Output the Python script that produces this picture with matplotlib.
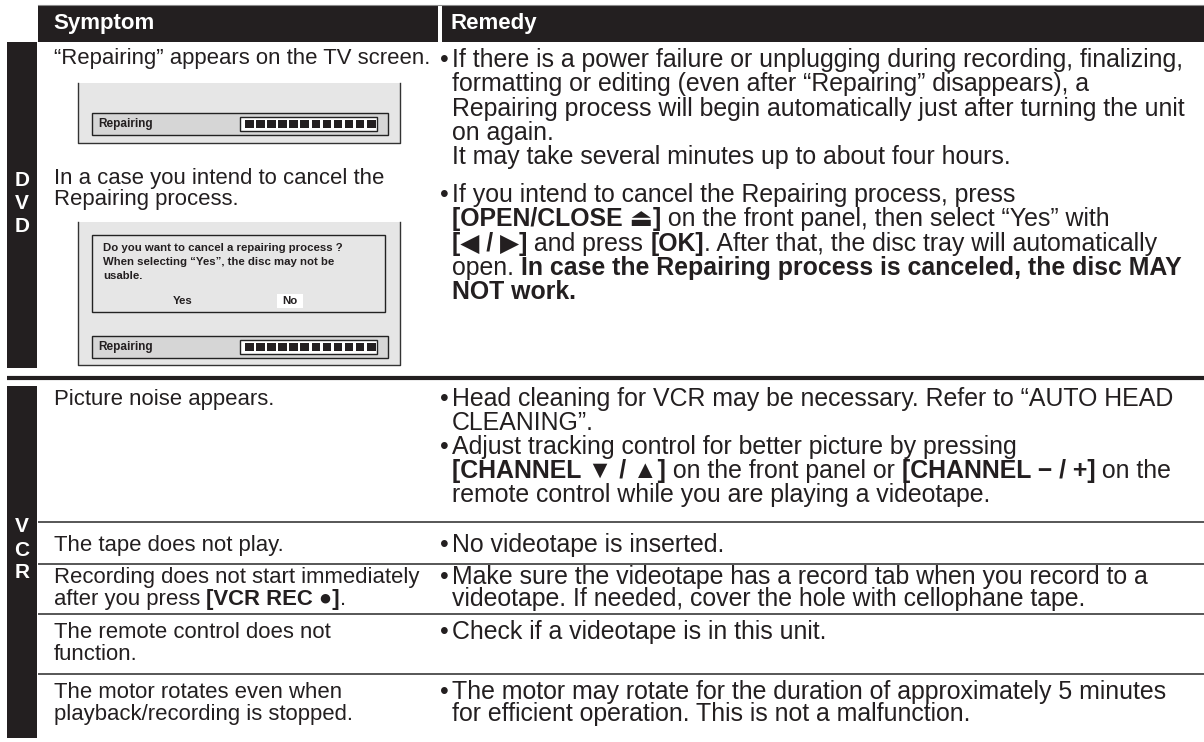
import matplotlib
matplotlib.use("Agg")
import matplotlib.pyplot as plt
from matplotlib.patches import Rectangle
from matplotlib import font_manager

# ---------------- table content ----------------
headers = ["Symptom", "Remedy"]
dvd_letters = ["D", "V", "D"]
vcr_letters = ["V", "C", "R"]

# a line is a plain string or a list of (text, bold) runs
dvd_symptoms = [
    ["“Repairing” appears on the TV screen."],
    ["In a case you intend to cancel the", "Repairing process."],
]

dvd_remedies = [
    ["If there is a power failure or unplugging during recording, finalizing,",
     "formatting or editing (even after “Repairing” disappears), a",
     "Repairing process will begin automatically just after turning the unit",
     "on again.",
     "It may take several minutes up to about four hours."],
    ["If you intend to cancel the Repairing process, press",
     [("[OPEN/CLOSE ⏏]", 1), (" on the front panel, then select “Yes” with", 0)],
     [("[◀ / ▶]", 1), (" and press ", 0), ("[OK]", 1),
      (". After that, the disc tray will automatically", 0)],
     [("open. ", 0), ("In case the Repairing process is canceled, the disc MAY", 1)],
     [("NOT work.", 1)]],
]

screen_label = "Repairing"
progress_blocks = 12
dialog_lines = ["Do you want to cancel a repairing process ?",
                "When selecting “Yes”, the disc may not be",
                "usable."]
dialog_buttons = ["Yes", "No"]

vcr_symptoms = [
    ["Picture noise appears."],
    ["The tape does not play."],
    ["Recording does not start immediately",
     [("after you press ", 0), ("[VCR REC ●]", 1), (".", 0)]],
    ["The remote control does not", "function."],
    ["The motor rotates even when", "playback/recording is stopped."],
]

vcr_remedies = [
    [["Head cleaning for VCR may be necessary. Refer to “AUTO HEAD", "CLEANING”."],
     ["Adjust tracking control for better picture by pressing",
      [("[CHANNEL ▼ / ▲]", 1), (" on the front panel or ", 0),
       ("[CHANNEL − / +]", 1), (" on the", 0)],
      "remote control while you are playing a videotape."]],
    [["No videotape is inserted."]],
    [["Make sure the videotape has a record tab when you record to a",
      "videotape. If needed, cover the hole with cellophane tape."]],
    [["Check if a videotape is in this unit."]],
    [["The motor may rotate for the duration of approximately 5 minutes",
      "for efficient operation. This is not a malfunction."]],
]

# ---------------- layout (pixels, y down) ----------------
ink = "#231f20"
grey = "#e6e6e6"
W, H = 1204, 742
x_left, x_bullet, x_right = 54, 440, 452
vcr_row_edges = [386, 522, 564, 614, 674, 738]
vcr_text_y = [397, 543, 575, 630, 690]

names = {f.name for f in font_manager.fontManager.ttflist}
narrow = "Liberation Sans Narrow" if "Liberation Sans Narrow" in names else "Liberation Sans"
fam_l = ["Liberation Sans", "DejaVu Sans"]
fam_r = [narrow, "DejaVu Sans"]

fig = plt.figure(figsize=(W / 100, H / 100), dpi=100)
ax = fig.add_axes([0, 0, 1, 1])
ax.set_xlim(0, W)
ax.set_ylim(H, 0)
ax.axis("off")
R = fig.canvas.get_renderer()


def adv(s, size, fam, bold):
    kw = dict(fontsize=size, family=fam, fontweight="bold" if bold else "normal")
    a = ax.text(0, 0, s + "|", **kw)
    b = ax.text(0, 0, "|", **kw)
    w = a.get_window_extent(R).width - b.get_window_extent(R).width
    a.remove()
    b.remove()
    return w


def put_line(x, yc, line, size, fam, color=ink):
    if isinstance(line, str):
        line = [(line, 0)]
    yb = yc + 0.36 * size * 100 / 72
    for s, bold in line:
        ax.text(x, yb, s, fontsize=size, family=fam, color=color,
                fontweight="bold" if bold else "normal", va="baseline", ha="left")
        x += adv(s, size, fam, bold)


def box(x0, y0, x1, y1, **kw):
    ax.add_patch(Rectangle((x0, y0), x1 - x0, y1 - y0, **kw))


# fit font sizes to the widths seen in the picture
size_l = 10 * 376 / adv(dvd_symptoms[0][0], 10, fam_l, 0)
size_r = 10 * 740 / adv(dvd_remedies[0][0], 10, fam_r, 0)


def put_paragraphs(paras, y0, pitch, gap=0):
    y = y0
    for para in paras:
        put_line(x_bullet, y, "•", size_r, fam_r)
        for ln in para:
            put_line(x_right, y, ln, size_r, fam_r)
            y += pitch
        y += gap


# header
box(38, 5, 438, 42, fc=ink, ec="none")
box(442, 5, W, 42, fc=ink, ec="none")
ax.plot([38, W], [5, 5], color="#8a8a8a", lw=0.8)
ax.text(53, 24, headers[0], color="white", fontsize=16, fontweight="bold",
        family="Liberation Sans", va="center")
ax.text(451, 24, headers[1], color="white", fontsize=16, fontweight="bold",
        family="Liberation Sans", va="center")

# side bars
box(7, 42, 37, 368, fc=ink, ec="none")
box(7, 386, 37, 738, fc=ink, ec="none")
for i, ch in enumerate(dvd_letters):
    ax.text(22, 180 + 23.5 * i, ch, color="white", fontsize=15, fontweight="bold",
            family="Liberation Sans", ha="center", va="center")
for i, ch in enumerate(vcr_letters):
    ax.text(22, 527 + 23 * i, ch, color="white", fontsize=15, fontweight="bold",
            family="Liberation Sans", ha="center", va="center")

# section rule and row rules
ax.plot([7, W], [377.5, 377.5], color=ink, lw=3, solid_capstyle="butt")
for y in vcr_row_edges[1:-1]:
    ax.plot([38, W], [y, y], color="#3a3a3a", lw=1.2, solid_capstyle="butt")

# DVD symptoms
put_line(x_left, 56, dvd_symptoms[0][0], size_l, fam_l)
for j, ln in enumerate(dvd_symptoms[1]):
    put_line(x_left, 176 + 21 * j, ln, size_l, fam_l)


def screen(top, bottom, bar_top):
    box(78, top, 400, bottom, fc=grey, ec="none")
    ax.plot([78, 78, 400, 400], [top, bottom, bottom, top], color="#333333", lw=1)
    box(92, bar_top, 388, bar_top + 22, fc="#d6d6d6", ec="#222222", lw=1)
    ax.text(98, bar_top + 11, screen_label, fontsize=8.5, fontweight="bold",
            family="Liberation Sans", color=ink, va="center")
    box(240, bar_top + 4, 377, bar_top + 18, fc="white", ec="#222222", lw=1)
    step = (377 - 244) / progress_blocks
    for k in range(progress_blocks):
        box(245 + k * step, bar_top + 7, 245 + k * step + step - 2.5, bar_top + 15,
            fc=ink, ec="none")


screen(83, 143, 113)
screen(222, 365, 336)
box(92, 235, 385, 312, fc=grey, ec="#222222", lw=1)
for j, ln in enumerate(dialog_lines):
    ax.text(103, 248 + 14 * j, ln, fontsize=8.2, fontweight="bold",
            family="Liberation Sans", color=ink, va="center")
box(277, 294, 303, 308, fc="white", ec="none")
ax.text(183, 301, dialog_buttons[0], fontsize=8.2, fontweight="bold",
        family="Liberation Sans", color=ink, ha="center", va="center")
ax.text(290, 301, dialog_buttons[1], fontsize=8.2, fontweight="bold",
        family="Liberation Sans", color=ink, ha="center", va="center")

# DVD remedies
put_paragraphs(dvd_remedies[:1], 58, 24.3)
put_paragraphs(dvd_remedies[1:], 193, 24.3)

# VCR rows
for i in range(len(vcr_symptoms)):
    y0 = vcr_text_y[i]
    for j, ln in enumerate(vcr_symptoms[i]):
        put_line(x_left, y0 + 22 * j, ln, size_l, fam_l)
    put_paragraphs(vcr_remedies[i], y0, 24 if i == 0 else 22)

fig.savefig("out.png", dpi=100)
